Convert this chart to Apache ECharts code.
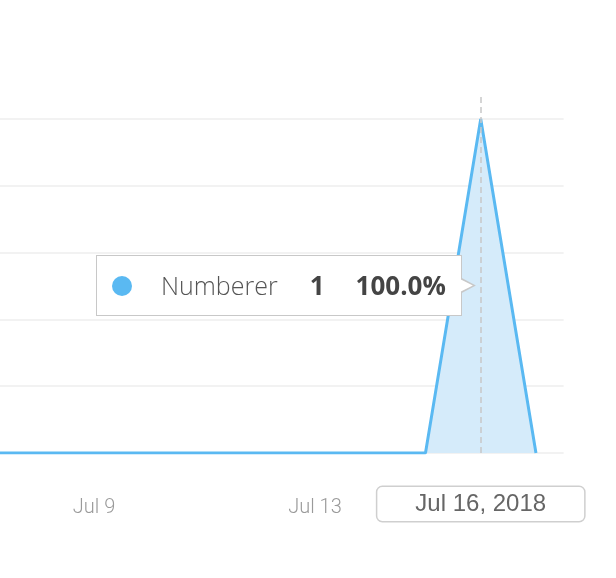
<!DOCTYPE html>
<html>
<head>
<meta charset="utf-8">
<script src="https://cdn.jsdelivr.net/npm/echarts@6/dist/echarts.min.js"></script>
<style>
html,body{margin:0;padding:0;background:#fff;overflow:hidden;width:616px;height:578px;}
#main{width:771px;height:578px;margin-left:-155px;}
</style>
</head>
<body>
<div id="main"></div>
<script>
// ---- data ----
const categories = ['Jul 5','Jul 6','Jul 7','Jul 8','Jul 9','Jul 10','Jul 11','Jul 12','Jul 13','Jul 14','Jul 15','Jul 16','Jul 17'];
const numbererValues = [0,0,0,0,0,0,0,0,0,0,0,1,0];
const seriesName = 'Numberer';
const year = '2018';
const highlightedIndex = 11; // Jul 16
const yTicks = [0, 0.2, 0.4, 0.6, 0.8, 1.0];

const lineColor = '#5ab9f2';
const fillColor = '#d5ebfa';

const chart = echarts.init(document.getElementById('main'), null, {renderer: 'canvas'});

const option = {
  animation: false,
  backgroundColor: '#ffffff',
  grid: { left: 0.4, right: 52.4, top: 93, bottom: 125, containLabel: false },
  tooltip: {
    trigger: 'axis',
    triggerOn: 'none',
    alwaysShowContent: true,
    transitionDuration: 0,
    backgroundColor: '#ffffff',
    borderColor: '#c8c8c8',
    borderWidth: 1.5,
    padding: [16, 15, 16, 15],
    extraCssText: 'box-shadow:none;border-radius:0;',
    axisPointer: { type: 'line' },
    position: function (point, params, dom, rect, size) {
      const p = Array.isArray(params) ? params[0] : params;
      const idx = p.dataIndex;
      const top = chart.convertToPixel({gridIndex: 0}, [categories[idx], numbererValues[idx]]);
      const base = chart.convertToPixel({gridIndex: 0}, [categories[idx], 0]);
      const cy = (top[1] + base[1]) / 2;
      const w = size.contentSize[0], h = size.contentSize[1];
      return [top[0] - 19 - w, cy - h / 2 - 1];
    },
    formatter: function (params) {
      const p = params[0];
      let total = 0;
      params.forEach(q => { total += q.value; });
      const pct = total ? (p.value / total * 100).toFixed(1) + '%' : '0.0%';
      return '<div style="position:relative;display:flex;align-items:center;height:27px;font-family:\'Open Sans\',Roboto,sans-serif;font-size:25px;line-height:27px;">' +
        '<span style="display:inline-block;width:20px;height:20px;border-radius:50%;background:' + lineColor + ';margin-right:29px;"></span>' +
        '<span style="color:#555;font-weight:300;">' + p.seriesName + '</span>' +
        '<span style="color:#444;font-weight:700;font-size:26px;margin-left:32px;">' + p.value + '</span>' +
        '<span style="color:#444;font-weight:700;font-size:26px;margin-left:31px;">' + pct + '</span>' +
        '</div>' +
        '<div style="position:absolute;right:-15px;top:50%;margin-top:-8px;width:15px;height:16px;background:#c8c8c8;clip-path:polygon(0 0,100% 50%,0 100%);"></div>' +
        '<div style="position:absolute;right:-12px;top:50%;margin-top:-6.5px;width:13px;height:13px;background:#fff;clip-path:polygon(0 0,100% 50%,0 100%);"></div>';
    }
  },
  xAxis: {
    type: 'category',
    data: categories,
    boundaryGap: true,
    axisLine: { show: false },
    axisTick: { show: false },
    splitLine: { show: false },
    axisLabel: {
      interval: 3,
      margin: 45,
      color: '#9a9a9a',
      fontFamily: 'Roboto',
      fontWeight: 300,
      fontSize: 20
    },
    axisPointer: {
      type: 'line',
      lineStyle: { color: '#c8c8c8', width: 1.5, type: [6, 4] },
      label: {
        show: true,
        margin: 34,
        formatter: function (obj) { return obj.value + ', ' + year; },
        backgroundColor: '#ffffff',
        borderColor: '#cfcfcf',
        borderWidth: 1.5,
        borderRadius: 5,
        padding: [5, 38, 5, 38],
        color: '#666666',
        fontFamily: 'Liberation Sans',
        fontSize: 24,
        shadowBlur: 0
      }
    }
  },
  yAxis: {
    type: 'value',
    min: yTicks[0],
    max: 1.078,
    interval: yTicks[1] - yTicks[0],
    axisLine: { show: false },
    axisTick: { show: false },
    axisLabel: { show: false },
    splitLine: { show: true, showMaxLine: false, lineStyle: { color: '#eeeeee', width: 1.5 } }
  },
  series: [{
    name: seriesName,
    type: 'line',
    data: numbererValues,
    symbol: 'none',
    smooth: false,
    lineStyle: { color: lineColor, width: 3 },
    itemStyle: { color: lineColor },
    areaStyle: { color: fillColor, opacity: 1 },
    emphasis: { disabled: true }
  }]
};

chart.setOption(option);
chart.dispatchAction({ type: 'showTip', seriesIndex: 0, dataIndex: highlightedIndex });
</script>
</body>
</html>
